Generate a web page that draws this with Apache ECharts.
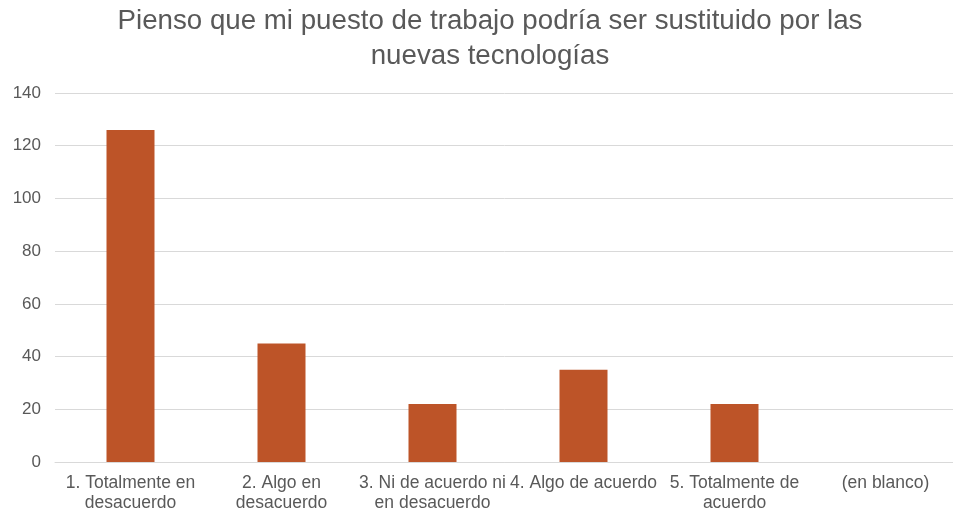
<!DOCTYPE html>
<html>
<head>
<meta charset="utf-8">
<script src="https://cdn.jsdelivr.net/npm/echarts@6/dist/echarts.min.js"></script>
<style>
html,body{margin:0;padding:0;background:#fff;}
#chart{width:953px;height:513px;}
</style>
</head>
<body>
<div id="chart"></div>
<script>
const titleText = "Pienso que mi puesto de trabajo podría ser sustituido por las\nnuevas tecnologías";
const categories = [
  "1. Totalmente en\ndesacuerdo",
  "2. Algo en\ndesacuerdo",
  "3. Ni de acuerdo ni\nen desacuerdo",
  "4. Algo de acuerdo",
  "5. Totalmente de\nacuerdo",
  "(en blanco)"
];
const values = [126, 45, 22, 35, 22, 0];
const yTicks = {min: 0, max: 140, interval: 20};

const font = "'Liberation Sans', Arial, Helvetica, sans-serif";
const chart = echarts.init(document.getElementById('chart'), null, {renderer: 'canvas'});
chart.setOption({
  animation: false,
  backgroundColor: '#ffffff',
  graphic: [{
    type: 'text',
    x: 490,
    y: 3.5,
    silent: true,
    style: {
      text: titleText,
      align: 'center',
      verticalAlign: 'top',
      fontFamily: font,
      fontSize: 27.7,
      lineHeight: 35,
      fill: '#595959'
    }
  }],
  grid: {left: 55, right: -8, top: 93, bottom: 51, containLabel: false, outerBoundsMode: 'none'},
  xAxis: {
    type: 'category',
    data: categories,
    axisTick: {show: false},
    axisLine: {lineStyle: {color: '#D9D9D9', width: 1}},
    axisLabel: {
      interval: 0,
      margin: 11,
      fontFamily: font,
      fontSize: 17.5,
      lineHeight: 20,
      color: '#595959'
    }
  },
  yAxis: {
    type: 'value',
    min: yTicks.min,
    max: yTicks.max,
    interval: yTicks.interval,
    axisLine: {show: false},
    axisTick: {show: false},
    splitLine: {lineStyle: {color: '#D9D9D9', width: 1}},
    axisLabel: {
      margin: 14,
      fontFamily: font,
      fontSize: 17,
      color: '#595959'
    }
  },
  series: [{
    type: 'bar',
    data: values,
    barWidth: 48,
    itemStyle: {color: '#BD5428'}
  }]
});
</script>
</body>
</html>
